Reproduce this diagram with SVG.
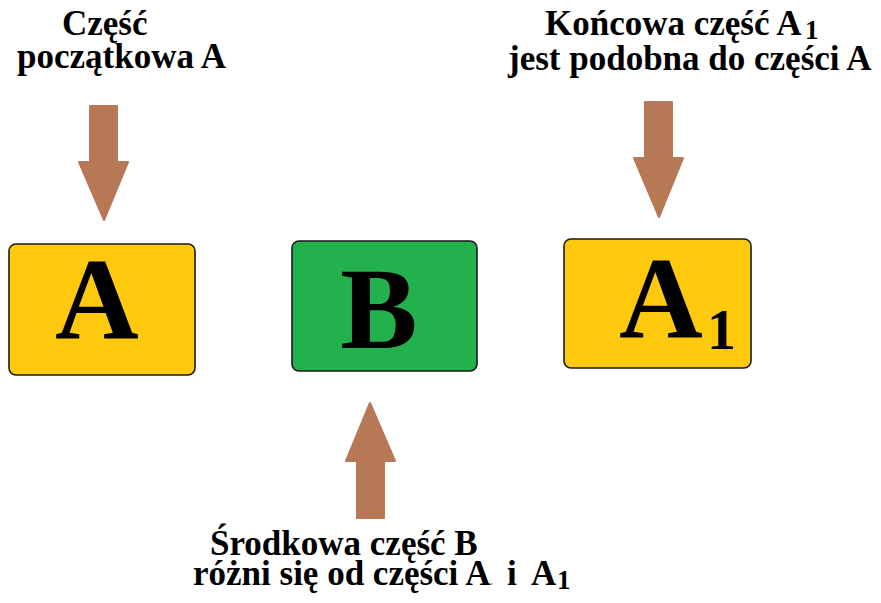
<svg xmlns="http://www.w3.org/2000/svg" width="881" height="603" viewBox="0 0 881 603">
<style>
.lbl{font-family:"Liberation Serif","Times New Roman",serif;font-weight:bold;font-size:35px;fill:#000}
.big{font-family:"Liberation Serif","Times New Roman",serif;font-weight:bold;font-size:116px;fill:#000}
.sub{font-family:"Liberation Serif","Times New Roman",serif;font-weight:bold;font-size:58px;fill:#000}
.box{stroke:#1a1a1a;stroke-width:1.6}
.arrow{fill:#B77955;stroke:#B77955;stroke-width:2;stroke-linejoin:round}
</style>
<rect width="881" height="603" fill="#fff"/>
<g id="labels">
<text class="lbl" x="62" y="35">Część</text>
<text class="lbl" x="17" y="68">początkowa A</text>
<text class="lbl" x="545" y="35">Końcowa część A<tspan style="font-size:27px" x="805" dy="4">1</tspan></text>
<text class="lbl" x="508" y="70">jest podobna do części A</text>
<text class="lbl" x="210" y="555">Środkowa część B</text>
<text class="lbl" x="193" y="585">różni się od części A<tspan style="font-size:12px;fill:#999" x="490">.</tspan><tspan x="507">i</tspan><tspan x="531">A</tspan><tspan style="font-size:27px" x="557" dy="4">1</tspan></text>
</g>
<g id="nodeA">
<rect class="box" x="9" y="244" width="186" height="131" rx="7" fill="#FFC90E"/>
<text class="big" x="97" y="338" text-anchor="middle">A</text>
</g>
<g id="nodeB">
<rect class="box" x="292" y="241" width="185" height="130" rx="7" fill="#22B14C"/>
<text class="big" x="379" y="348" text-anchor="middle">B</text>
</g>
<g id="nodeA1">
<rect class="box" x="564" y="239" width="187" height="129" rx="7" fill="#FFC90E"/>
<text class="big" x="661" y="337" text-anchor="middle">A</text>
<text class="sub" x="707" y="349">1</text>
</g>
<g id="connectors">
<path class="arrow" d="M90,106 H117 V162 H128 L104,220 L79,162 H90 Z"/>
<path class="arrow" d="M645,102 H672 V158 H683 L659,217 L634,158 H645 Z"/>
<path class="arrow" d="M357,518 H384 V461 H395 L370,403 L346,461 H357 Z"/>
</g>
</svg>
